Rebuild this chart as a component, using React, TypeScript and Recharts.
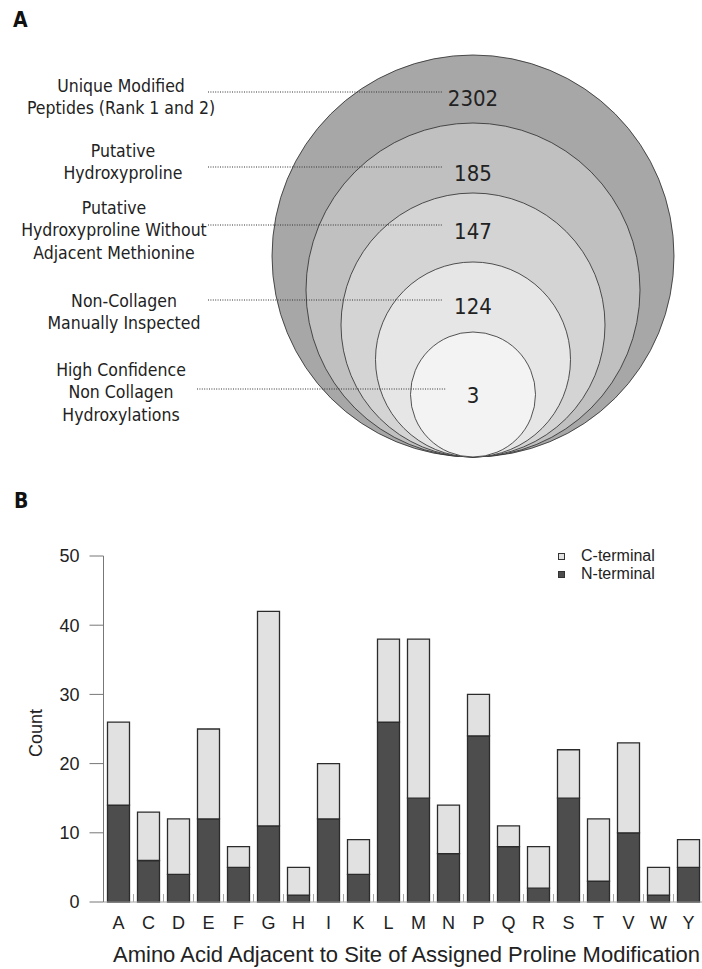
import { ScatterChart, Scatter, XAxis, YAxis, BarChart, Bar, Legend } from "recharts";

// panel A: filtering stages
const stageLabels = [
  ["Unique Modified", "Peptides (Rank 1 and 2)"],
  ["Putative", "Hydroxyproline"],
  ["Putative", "Hydroxyproline Without", "Adjacent Methionine"],
  ["Non-Collagen", "Manually Inspected"],
  ["High Confidence", "Non Collagen", "Hydroxylations"],
];
const stageCounts = [2302, 185, 147, 124, 3];

// panel B: residue next to the modified proline
const aminoAcids = ["A", "C", "D", "E", "F", "G", "H", "I", "K", "L", "M", "N", "P", "Q", "R", "S", "T", "V", "W", "Y"];
const nTerminal = [14, 6, 4, 12, 5, 11, 1, 12, 4, 26, 15, 7, 24, 8, 2, 15, 3, 10, 1, 5];
const cTerminal = [12, 7, 8, 13, 3, 31, 4, 8, 5, 12, 23, 7, 6, 3, 6, 7, 9, 13, 4, 4];
const countTicks = [0, 10, 20, 30, 40, 50];
const legendOrder = ["C-terminal", "N-terminal"];

const NARROW = "'Liberation Sans Narrow', 'DejaVu Sans Condensed', sans-serif";
const ARIAL = "'Liberation Sans', Arial, sans-serif";

// layout of the nested circles
const CX = 473;
const BASE_Y = 457;
const RADII = [201, 167, 132, 97.5, 62.5];
const FILLS = ["#a7a7a7", "#c0c0c0", "#d4d4d4", "#e6e6e6", "#f3f3f3"];
const ROW_Y = [92, 167, 225, 300, 389];
const LABEL_X = [121, 123, 114, 124, 121];
const LABEL_TOP = [86, 151, 208, 301, 370];
const LINE_X0 = [208, 208, 208, 208, 197];
const LINE_X1 = [443, 443, 443, 443, 446];

const circles = stageCounts.map((_, i) => ({ x: CX, y: BASE_Y - RADII[i], r: RADII[i], i }));
const rows = stageCounts.map((count, i) => ({ x: CX, y: ROW_Y[i], count, i }));

const barData = aminoAcids.map((aa, i) => ({ aa, n: nTerminal[i], c: cTerminal[i] }));

const renderCircle = (props: any) => {
  const { cx, cy, payload } = props;
  return <circle cx={cx} cy={cy} r={payload.r} fill={FILLS[payload.i]} stroke="#2a2a2a" strokeWidth={0.8} />;
};

const renderRow = (props: any) => {
  const { cx, cy, payload } = props;
  const i = payload.i;
  return (
    <g>
      <line x1={LINE_X0[i]} x2={LINE_X1[i]} y1={cy} y2={cy} stroke="#333" strokeWidth={1} strokeDasharray="1 1.4" />
      <text x={cx} y={cy + 6} textAnchor="middle" dominantBaseline="central" fontFamily={NARROW} fontSize={22} fill="#222">
        {payload.count}
      </text>
      {stageLabels[i].map((line, k) => (
        <text key={k} x={LABEL_X[i]} y={LABEL_TOP[i] + k * 22.3} textAnchor="middle" dominantBaseline="central" fontFamily={NARROW} fontSize={17.5} fill="#222">
          {line}
        </text>
      ))}
    </g>
  );
};

const AaTick = (props: any) => {
  const { x, y, payload } = props;
  const half = payload.offset || 15;
  return (
    <g>
      <line x1={x + half} x2={x + half} y1={y} y2={y - 8} stroke="#a8a8a8" strokeWidth={1} />
      <text x={x} y={y + 21} textAnchor="middle" dominantBaseline="central" fontFamily={ARIAL} fontSize={18} fill="#222">
        {payload.value}
      </text>
    </g>
  );
};

const LegendBox = (props: any) => {
  const items = legendOrder.map((name) => (props.payload || []).find((p: any) => p.value === name)).filter(Boolean);
  return (
    <div style={{ fontFamily: ARIAL, fontSize: 16, lineHeight: "18px", color: "#222" }}>
      {items.map((it: any) => (
        <div key={it.value} style={{ display: "flex", alignItems: "center" }}>
          <span style={{ width: 5, height: 5, background: it.color, border: "1px solid #333", marginRight: 16 }} />
          {it.value}
        </div>
      ))}
    </div>
  );
};

export default function App() {
  return (
    <div style={{ position: "absolute", left: 0, top: 0, width: 702, height: 969, overflow: "hidden", background: "#fff" }}>
      <ScatterChart width={702} height={480} margin={{ top: 0, right: 0, bottom: 0, left: 0 }}>
        <XAxis type="number" dataKey="x" domain={[0, 702]} hide />
        <YAxis type="number" dataKey="y" domain={[0, 480]} reversed hide />
        <Scatter data={circles} shape={renderCircle} isAnimationActive={false} />
        <Scatter data={rows} shape={renderRow} isAnimationActive={false} />
      </ScatterChart>
      <div style={{ position: "absolute", left: 0, top: 480 }}>
        <BarChart width={706} height={489} data={barData} margin={{ top: 76, right: 2.5, left: 0, bottom: 0 }} barSize={22}>
          <XAxis
            dataKey="aa"
            height={67}
            interval={0}
            tickLine={false}
            tickSize={0}
            tickMargin={0}
            stroke="#a0a0a0"
            tick={<AaTick />}
            label={{
              content: () => (
                <text x={113} y={482} fontFamily={ARIAL} fontSize={22} fill="#222">
                  Amino Acid Adjacent to Site of Assigned Proline Modification
                </text>
              ),
            }}
          />
          <YAxis
            domain={[0, 50]}
            ticks={countTicks}
            width={103.5}
            tickSize={14}
            tickMargin={10}
            stroke="#777"
            tick={{ fill: "#222", fontSize: 18, fontFamily: ARIAL }}
            label={{
              content: () => (
                <text x={36} y={253} transform="rotate(-90 36 253)" textAnchor="middle" dominantBaseline="central" fontFamily={ARIAL} fontSize={18} fill="#222">
                  Count
                </text>
              ),
            }}
          />
          <Legend layout="vertical" verticalAlign="middle" align="center" wrapperStyle={{ top: 67, left: 558, width: 150 }} content={<LegendBox />} />
          <Bar dataKey="n" name="N-terminal" stackId="s" fill="#4d4d4d" stroke="#2b2b2b" strokeWidth={1.3} isAnimationActive={false} />
          <Bar dataKey="c" name="C-terminal" stackId="s" fill="#e1e1e1" stroke="#2b2b2b" strokeWidth={1.3} isAnimationActive={false} />
        </BarChart>
      </div>
      <svg width={702} height={969} style={{ position: "absolute", left: 0, top: 0, pointerEvents: "none" }}>
        <text x={13} y={27} fontFamily={NARROW} fontWeight="bold" fontSize={21} fill="#111">A</text>
        <text x={14} y={508} fontFamily={NARROW} fontWeight="bold" fontSize={21} fill="#111">B</text>
      </svg>
    </div>
  );
}
